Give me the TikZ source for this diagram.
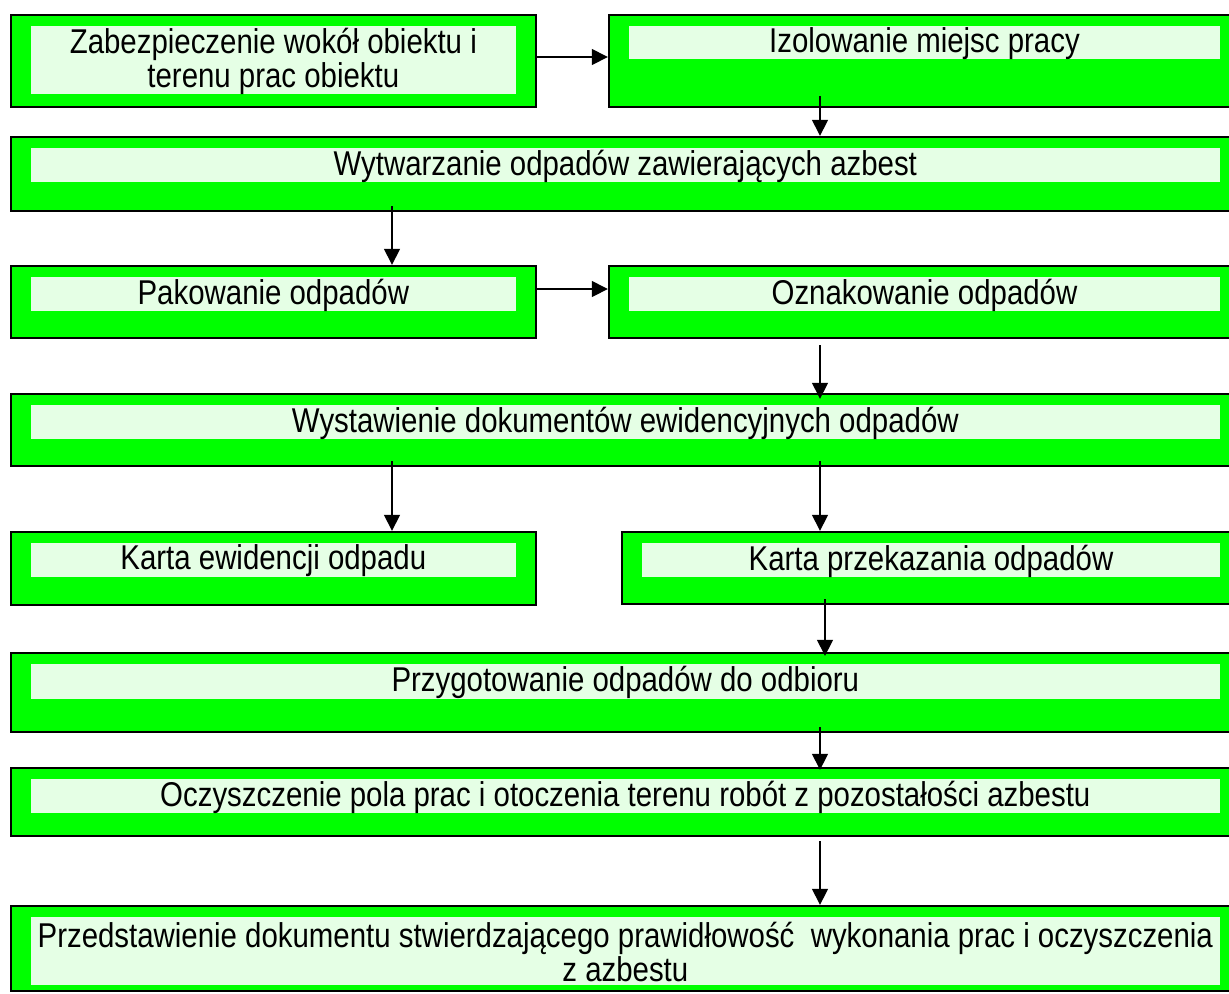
\documentclass[tikz,border=0pt]{standalone}
\usepackage{fontspec}
\setmainfont{Liberation Sans}[FakeStretch=0.855]
\usetikzlibrary{arrows.meta,fit,calc}
\definecolor{boxgreen}{RGB}{0,255,0}
\definecolor{palegreen}{RGB}{229,255,229}
\newcommand\flowbox[7]{% name, x1, y1, x2, y2, inner y2, text
  \coordinate (#1-a) at (#2,#3);
  \coordinate (#1-b) at (#4,#5);
  \node[outerbox, fit=(#1-a)(#1-b)] (#1) {};
  \coordinate (#1-c) at ({#2+20},{#3+11});
  \coordinate (#1-d) at ({#4-20},#6);
  \node[innerbox, fit=(#1-c)(#1-d)] (#1-in) {};
  \node[boxtext] (#1-t) at ([yshift=-0.5pt]#1-in.center) {#7};
}
\begin{document}
\begin{tikzpicture}[x=0.5pt,y=-0.5pt,
  outerbox/.style={draw=black, line width=1.2pt, fill=boxgreen, inner sep=0pt},
  innerbox/.style={fill=palegreen, inner sep=0pt},
  boxtext/.style={font=\fontsize{17.2pt}{17pt}\selectfont, inner sep=0pt, align=center, text=black},
  arr/.style={draw=black, line width=0.75pt, -{Triangle[length=8pt,width=8pt]}}
]
\useasboundingbox (0,0) rectangle (1229,993);
\clip (0,0) rectangle (1229,993);

\flowbox{b1}{10.7}{15}{536}{107}{94}{Zabezpieczenie wokół obiektu i\\terenu prac obiektu}
\flowbox{izo}{609}{15}{1240}{107}{59}{Izolowanie miejsc pracy}
\flowbox{wyt}{10.7}{137}{1240}{211}{182}{Wytwarzanie odpadów zawierających azbest}
\flowbox{pak}{10.7}{266}{536}{338}{311}{Pakowanie odpadów}
\flowbox{ozn}{609}{266}{1240}{338}{311}{Oznakowanie odpadów}
\flowbox{wys}{10.7}{394}{1240}{466}{439}{Wystawienie dokumentów ewidencyjnych odpadów}
\flowbox{kev}{10.7}{532}{536}{605}{577}{Karta ewidencji odpadu}
\flowbox{kpr}{622}{532}{1240}{604}{577}{Karta przekazania odpadów}
\flowbox{prz}{10.7}{653}{1240}{732}{699}{Przygotowanie odpadów do odbioru}
\flowbox{ocz}{10.7}{768}{1240}{836}{813}{Oczyszczenie pola prac i otoczenia terenu robót z pozostałości azbestu}
\flowbox{prd}{10.7}{906}{1240}{991}{985}{Przedstawienie dokumentu stwierdzającego prawidłowość~ wykonania prac i oczyszczenia\\z azbestu}

\coordinate (colL) at (392,0);
\coordinate (colR) at (820,0);
\coordinate (colRb) at (825,0);
\coordinate (h1) at ([yshift=1.5pt]b1-in.center);
\coordinate (h2) at ([yshift=2.5pt]pak-in.center);

\draw[arr] (b1.east |- h1) -- (izo.west |- h1);
\draw[arr] ([yshift=6pt]izo.south -| colR) -- (wyt.north -| colR);
\draw[arr] ([yshift=3pt]wyt.south -| colL) -- (pak.north -| colL);
\draw[arr] (pak.east |- h2) -- (ozn.west |- h2);
\draw[arr] ([yshift=-3pt]ozn.south -| colR) -- ([yshift=-3pt]wys.north -| colR);
\draw[arr] ([yshift=3pt]wys.south -| colL) -- (kev.north -| colL);
\draw[arr] ([yshift=3pt]wys.south -| colR) -- (kpr.north -| colR);
\draw[arr] ([yshift=3pt]kpr.south -| colRb) -- ([yshift=-2pt]prz.north -| colRb);
\draw[arr] ([yshift=3pt]prz.south -| colR) -- ([yshift=-1.5pt]ocz.north -| colR);
\draw[arr] ([yshift=-2pt]ocz.south -| colR) -- (prd.north -| colR);
\end{tikzpicture}
\end{document}
